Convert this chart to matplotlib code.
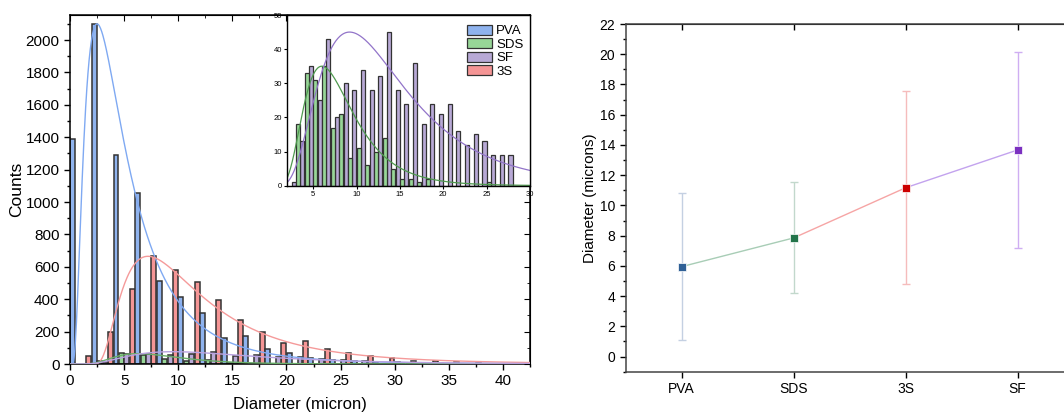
import matplotlib
matplotlib.use("Agg")
import matplotlib.pyplot as plt
from matplotlib.patches import Patch
from matplotlib.ticker import MultipleLocator
import numpy as np

plt.rcParams['font.family'] = ['Liberation Sans', 'DejaVu Sans']

# main histogram, 2 micron bins
bins = np.arange(0, 44, 2)
pva_counts = [1390, 2100, 1288, 1058, 514, 416, 313, 160, 170, 90, 71, 34, 25, 18, 12, 10, 6, 4, 3, 2, 2, 1]
sds_counts = [0, 16, 65, 58, 29, 17, 24, 7, 3, 2, 0, 0, 1, 0, 0, 0, 0, 0, 0, 0, 0, 0]
sf_counts = [0, 13, 60, 63, 58, 62, 77, 52, 54, 45, 42, 30, 25, 18, 0, 0, 0, 0, 0, 0, 0, 0]
s3_counts = [0, 51, 200, 463, 668, 578, 508, 393, 270, 200, 128, 143, 93, 66, 47, 35, 19, 21, 10, 5, 3, 3]

# inset histogram, 1 micron bins
inset_bins = np.arange(3, 29)
inset_sds = [18, 33, 31, 35, 17, 21, 8, 11, 6, 10, 14, 5, 2, 2, 1, 2, 0, 0, 0, 0, 0, 0, 1, 0, 0, 0]
inset_sf = [1, 13, 35, 25, 43, 20, 30, 28, 34, 28, 32, 45, 28, 24, 36, 18, 24, 21, 24, 16, 12, 15, 13, 9, 9, 9]

# lognormal fit parameters (peak height, mode, width, offset)
fit_pva = (2100, 2.5, 0.77, 0.1)
fit_s3 = (665, 7.2, 0.7, 2.0)
fit_sds = (64, 6.3, 0.47, 0.0)
fit_sf = (76, 9.5, 0.6, 0.0)
fit_sds_inset = (35, 6.0, 0.47, 0.0)
fit_sf_inset = (45, 9.2, 0.55, 0.0)

# mean diameters
samples = ['PVA', 'SDS', '3S', 'SF']
mean_d = [5.95, 7.85, 11.17, 13.67]
sd_d = [4.85, 3.67, 6.4, 6.5]

c_pva, c_sds, c_sf, c_3s = '#8fb3ee', '#97d697', '#b8a9d6', '#f59595'
l_pva, l_sds, l_sf, l_3s = '#7fa9f2', '#6aae6a', '#b9a2e0', '#f59a9a'
edge = '#333333'


def lognorm(x, p):
    peak, mode, s, x0 = p
    u = np.clip(x - x0, 1e-6, None)
    y = peak * np.exp(-np.log(u / (mode - x0)) ** 2 / (2 * s ** 2))
    return np.where(x > x0, y, 0)


fig = plt.figure(figsize=(10.64, 4.12), dpi=100)

ax = fig.add_axes([70 / 1064, 48 / 412, 460 / 1064, 349 / 412])
w = 0.46
ax.bar(bins - 0.25, s3_counts, w, color=c_3s, edgecolor=edge, lw=1.1, zorder=2)
ax.bar(bins + 0.25, pva_counts, w, color=c_pva, edgecolor=edge, lw=1.1, zorder=2)
ax.bar(bins + 0.75, sds_counts, w, color=c_sds, edgecolor=edge, lw=1.1, zorder=2)
ax.bar(bins + 1.25, sf_counts, w, color=c_sf, edgecolor=edge, lw=1.1, zorder=2)
xs = np.linspace(0.01, 42.5, 800)
ax.plot(xs, lognorm(xs, fit_pva), color=l_pva, lw=1.0, zorder=3)
ax.plot(xs, lognorm(xs, fit_s3), color=l_3s, lw=1.0, zorder=3)
ax.plot(xs, lognorm(xs, fit_sds), color=l_sds, lw=1.0, zorder=3)
ax.plot(xs, lognorm(xs, fit_sf), color=l_sf, lw=1.0, zorder=3)
ax.set_xlim(0, 42.5)
ax.set_ylim(0, 2155)
ax.xaxis.set_major_locator(MultipleLocator(5))
ax.xaxis.set_minor_locator(MultipleLocator(2.5))
ax.yaxis.set_major_locator(MultipleLocator(200))
ax.yaxis.set_minor_locator(MultipleLocator(100))
ax.tick_params(which='both', direction='out', labelsize=11, width=1)
ax.tick_params(which='major', length=4)
ax.tick_params(which='minor', length=2.5)
for sp in ax.spines.values():
    sp.set_linewidth(1.1)
ax.set_xlabel('Diameter (micron)', fontsize=12, labelpad=6)
ax.set_ylabel('Counts', fontsize=12.5, labelpad=1)
top = ax.secondary_xaxis('top')
top.xaxis.set_major_locator(MultipleLocator(5))
top.xaxis.set_minor_locator(MultipleLocator(2.5))
top.tick_params(which='both', direction='in', labeltop=False)
top.tick_params(which='major', length=4)
top.tick_params(which='minor', length=2.5)
right = ax.secondary_yaxis('right')
right.yaxis.set_major_locator(MultipleLocator(200))
right.yaxis.set_minor_locator(MultipleLocator(100))
right.tick_params(which='both', direction='in', labelright=False)
right.tick_params(which='major', length=4)
right.tick_params(which='minor', length=2.5)

# inset
ins = fig.add_axes([286.7 / 1064, (412 - 185.7) / 412, 243.3 / 1064, 170.7 / 412], zorder=5)
ins.bar(inset_bins - 0.25, inset_sf, 0.47, color=c_sf, edgecolor=edge, lw=0.9)
ins.bar(inset_bins + 0.25, inset_sds, 0.47, color=c_sds, edgecolor=edge, lw=0.9)
xi = np.linspace(1.95, 30, 500)
ins.plot(xi, lognorm(xi, fit_sds_inset), color='#4f9a4f', lw=0.9)
ins.plot(xi, lognorm(xi, fit_sf_inset), color='#9274c9', lw=0.9)
ins.set_xlim(1.95, 30)
ins.set_ylim(0, 50)
ins.xaxis.set_major_locator(MultipleLocator(5))
ins.yaxis.set_major_locator(MultipleLocator(10))
ins.tick_params(direction='out', labelsize=5.5, length=2, width=0.8, pad=1.5)
for sp in ins.spines.values():
    sp.set_linewidth(1.0)

handles = [Patch(facecolor=c, edgecolor=edge, lw=0.9) for c in (c_pva, c_sds, c_sf, c_3s)]
fig.legend(handles, ['PVA', 'SDS', 'SF', '3S'], loc='upper left',
           bbox_to_anchor=(467 / 1064, 1 - 25 / 412), frameon=False, fontsize=9.5,
           handlelength=1.9, handleheight=0.75, labelspacing=0.08, handletextpad=0.3,
           borderpad=0, borderaxespad=0)

# mean diameter panel
ax2 = fig.add_axes([625.7 / 1064, 40.3 / 412, 448 / 1064, 347.7 / 412])
pos = np.arange(len(samples))
m_cols = ['#2f6096', '#22744a', '#cc0000', '#7b30c0']
e_cols = ['#c4d0e2', '#c2d8cc', '#f5bcbc', '#cfaef2']
seg_cols = ['#a8cdb6', '#f6a5a5', '#c3a3ee']
for i in range(len(samples) - 1):
    ax2.plot(pos[i:i + 2], mean_d[i:i + 2], color=seg_cols[i], lw=1.0, zorder=1)
for i in range(len(samples)):
    ax2.errorbar(pos[i], mean_d[i], yerr=sd_d[i], fmt='none', ecolor=e_cols[i],
                 elinewidth=1.0, capsize=3, capthick=1.0, zorder=2)
    ax2.plot(pos[i], mean_d[i], 's', color=m_cols[i], ms=5.5, mec='white', mew=0.5, zorder=3)
ax2.set_xlim(-0.5, 3.5)
ax2.set_ylim(-1, 22)
ax2.set_xticks(pos)
ax2.set_xticklabels(samples)
ax2.yaxis.set_major_locator(MultipleLocator(2))
ax2.yaxis.set_minor_locator(MultipleLocator(1))
ax2.tick_params(which='both', direction='out', labelsize=10, width=1)
ax2.tick_params(which='major', length=4)
ax2.tick_params(which='minor', length=2.5)
for sp in ax2.spines.values():
    sp.set_linewidth(1.1)
    sp.set_color('#444444')
ax2.set_ylabel('Diameter (microns)', fontsize=11, labelpad=2)
top2 = ax2.secondary_xaxis('top')
top2.set_xticks(pos)
top2.tick_params(direction='in', labeltop=False, length=4, width=1)

fig.savefig('out.png', dpi=100)
